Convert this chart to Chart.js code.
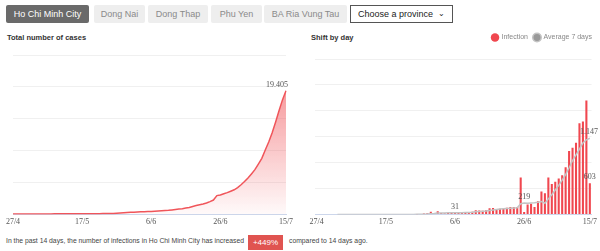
<!DOCTYPE html>
<html>
<head>
<meta charset="utf-8">
<script src="https://cdn.jsdelivr.net/npm/chart.js@4.4.0/dist/chart.umd.min.js"></script>
<style>
  body { margin: 0; width: 600px; height: 251px; background: #fff; position: relative; overflow: hidden;
         font-family: "Liberation Sans", Arial, sans-serif; }
  .tab { position: absolute; top: 5px; height: 18px; line-height: 18px; font-size: 9px; text-align: center;
         background: #eeeeee; color: #8a8a8a; border-radius: 2px; }
  .tab.on { background: #6a6a6a; color: #fff; }
  .select { position: absolute; left: 350px; top: 5px; height: 16px; border: 1px solid #555;
            font-size: 9px; line-height: 16px; color: #222; padding-left: 7px; width: 94px; }
  .select span { position: absolute; right: 7px; top: 0; font-size: 8px; }
  .title { position: absolute; top: 33px; font-size: 7.5px; font-weight: bold; color: #333; }
  .box { position: absolute; }
  .foot { position: absolute; top: 237px; font-size: 6.8px; color: #444; }
  .badge { position: absolute; left: 248px; top: 235px; width: 35px; height: 15px; line-height: 15px;
           background: #e05450; color: #fff; font-size: 8px; text-align: center; }
</style>
</head>
<body>
<div class="tab on" style="left:6px;width:83px">Ho Chi Minh City</div>
<div class="tab" style="left:94px;width:51px">Dong Nai</div>
<div class="tab" style="left:148px;width:60px">Dong Thap</div>
<div class="tab" style="left:211px;width:51px">Phu Yen</div>
<div class="tab" style="left:264px;width:83px">BA Ria Vung Tau</div>
<div class="select">Choose a province<span>&#8964;</span></div>

<div class="title" style="left:7px">Total number of cases</div>
<div class="title" style="left:311px">Shift by day</div>

<div class="box" style="left:0;top:45px;width:300px;height:185px"><canvas id="totalChart"></canvas></div>
<div class="box" style="left:300px;top:28px;width:300px;height:202px"><canvas id="dailyChart"></canvas></div>

<div class="foot" style="left:6px">In the past 14 days, the number of infections in Ho Chi Minh City has increased</div>
<div class="badge">+449%</div>
<div class="foot" style="left:289px">compared to 14 days ago.</div>

<script>
// dates 27/4 .. 15/7
const days = [
  '27/4','28/4','29/4','30/4',
  '1/5','2/5','3/5','4/5','5/5','6/5','7/5','8/5','9/5','10/5','11/5','12/5','13/5','14/5','15/5','16/5',
  '17/5','18/5','19/5','20/5','21/5','22/5','23/5','24/5','25/5','26/5','27/5','28/5','29/5','30/5','31/5',
  '1/6','2/6','3/6','4/6','5/6','6/6','7/6','8/6','9/6','10/6','11/6','12/6','13/6','14/6','15/6',
  '16/6','17/6','18/6','19/6','20/6','21/6','22/6','23/6','24/6','25/6','26/6','27/6','28/6','29/6','30/6',
  '1/7','2/7','3/7','4/7','5/7','6/7','7/7','8/7','9/7','10/7','11/7','12/7','13/7','14/7','15/7'
];
const tickLabels = ['27/4', '17/5', '6/6', '26/6', '15/7'];

const totalCases = [
  60, 62, 64, 66, 68, 70, 72, 74, 76, 78, 80, 82, 84, 86, 88, 90, 92, 95, 98, 101,
  104, 107, 110, 113, 116, 120, 125, 130, 140, 160, 190, 220, 250, 290, 320, 350, 380, 400, 420, 440,
  460, 490, 520, 560, 600, 640, 700, 760, 830, 900, 990, 1080, 1250, 1380, 1500, 1620, 1780, 2000, 2250, 2950,
  3050, 3230, 3420, 3640, 3860, 4200, 4650, 5150, 5700, 6350, 7020, 7900, 8800, 10100, 11350, 12800, 14500, 16300, 18000, 19405
];

const infection = [
  0, 0, 0, 0, 0, 0, 0, 0, 0, 0, 0, 0, 0, 0, 0, 0, 0, 0, 0, 0,
  0, 0, 0, 0, 0, 0, 0, 0, 0, 5, 10, 15, 20, 50, 20, 60, 25, 20, 30, 25,
  30, 35, 40, 45, 40, 50, 80, 75, 70, 80, 120, 125, 100, 107, 107, 126, 145, 145, 145, 711,
  44, 189, 208, 145, 252, 440, 409, 711, 585, 629, 692, 755, 912, 1226, 1289, 1384, 1761, 1793, 2201, 603
];

const average7 = [
  null, null, null, null, null, null, 0, 0, 0, 0, 0, 0, 0, 0, 0, 0, 0, 0, 0, 0,
  0, 0, 0, 0, 0, 0, 0, 0, 0, 1, 2, 4, 7, 14, 17, 26, 28, 28, 33, 33,
  31, 34, 33, 36, 38, 41, 50, 55, 60, 65, 75, 85, 95, 105, 110, 115, 120, 125, 130, 205,
  219, 215, 220, 225, 235, 250, 215, 300, 380, 470, 560, 660, 770, 900, 1040, 1150, 1260, 1380, 1440, 1470
];

// printed value labels: [dataset, index, text]
const totalNotes = [[0, 79, '19.405']];
const dailyNotes = [[1, 40, '31'], [1, 60, '219'], [1, 79, '1.147'], [0, 79, '603']];

const tickFont = { family: '"Liberation Serif", serif', size: 8 };

const notesPlugin = {
  id: 'notes',
  afterDatasetsDraw(chart, args, opts) {
    const ctx = chart.ctx;
    ctx.save();
    ctx.font = '8px "Liberation Serif", serif';
    ctx.fillStyle = '#555';
    ctx.textBaseline = 'bottom';
    ctx.textAlign = 'center';
    opts.list.forEach(([ds, i, text]) => {
      const el = chart.getDatasetMeta(ds).data[i];
      const w = ctx.measureText(text).width;
      let x = el.x;
      const maxRight = opts.right != null ? opts.right : chart.width - 2;
      if (x + w / 2 > maxRight) x = maxRight - w / 2;
      ctx.fillText(text, x, el.y - 2);
    });
    ctx.restore();
  }
};

// extra room under the legend, legend pushed to the right edge
const legendGap = {
  id: 'legendGap',
  beforeInit(chart) {
    const fit = chart.legend.fit;
    chart.legend.fit = function () {
      fit.bind(chart.legend)();
      this.height += 8;
    };
  },
  afterLayout(chart) {
    chart.legend.right = chart.width - 2;
  }
};

function xAxis() {
  return {
    offset: false,
    grid: { display: false, drawTicks: false },
    border: { color: '#ccd6eb' },
    ticks: {
      autoSkip: false, maxRotation: 0, padding: 3, font: tickFont, color: '#555',
      callback: (v, i) => tickLabels.includes(days[i]) ? days[i] : ''
    }
  };
}

new Chart(document.getElementById('totalChart'), {
  type: 'line',
  data: {
    labels: days,
    datasets: [{
      label: 'Total number of cases',
      data: totalCases,
      borderColor: '#f0555a',
      borderWidth: 1.5,
      pointRadius: 0,
      tension: 0,
      fill: 'origin',
      backgroundColor: (c) => {
        const area = c.chart.chartArea;
        if (!area) return 'rgba(240,85,90,0.3)';
        const g = c.chart.ctx.createLinearGradient(0, area.top, 0, area.bottom);
        g.addColorStop(0, 'rgba(240,85,90,0.75)');
        g.addColorStop(1, 'rgba(240,85,90,0.03)');
        return g;
      }
    }]
  },
  options: {
    animation: false,
    responsive: true,
    maintainAspectRatio: false,
    layout: { padding: { left: 13, right: 14, top: 10, bottom: 0 } },
    plugins: { legend: { display: false }, tooltip: { enabled: false }, notes: { list: totalNotes, right: 288 } },
    scales: {
      x: xAxis(),
      y: {
        min: 0, max: 25000,
        ticks: { stepSize: 5000, display: false },
        grid: { color: '#f0f0f0', drawTicks: false },
        border: { display: false }
      }
    }
  },
  plugins: [notesPlugin]
});

const dailyX = xAxis();
dailyX.offset = true;

new Chart(document.getElementById('dailyChart'), {
  type: 'bar',
  data: {
    labels: days,
    datasets: [
      {
        type: 'bar',
        label: 'Infection',
        data: infection,
        backgroundColor: '#f0474f',
        borderColor: '#f0474f',
        barPercentage: 0.6,
        categoryPercentage: 1,
        order: 2
      },
      {
        type: 'line',
        label: 'Average 7 days',
        data: average7,
        borderColor: '#c4c4c4',
        backgroundColor: '#999',
        borderWidth: 1.5,
        pointRadius: 0,
        tension: 0,
        order: 1
      }
    ]
  },
  options: {
    animation: false,
    responsive: true,
    maintainAspectRatio: false,
    layout: { padding: { left: 15, right: 8, top: 0, bottom: 0 } },
    plugins: {
      tooltip: { enabled: false },
      notes: { list: dailyNotes, right: 298 },
      legend: {
        align: 'end',
        labels: {
          usePointStyle: true, pointStyle: 'circle', boxWidth: 6, boxHeight: 6,
          padding: 6, color: '#888', font: { size: 7, family: '"Liberation Sans", Arial, sans-serif' },
          sort: (a, b) => a.datasetIndex - b.datasetIndex
        }
      }
    },
    scales: {
      x: dailyX,
      y: {
        min: 0, max: 3000,
        ticks: { stepSize: 500, display: false },
        grid: { color: '#f0f0f0', drawTicks: false },
        border: { display: false }
      }
    }
  },
  plugins: [notesPlugin, legendGap]
});
</script>
</body>
</html>
